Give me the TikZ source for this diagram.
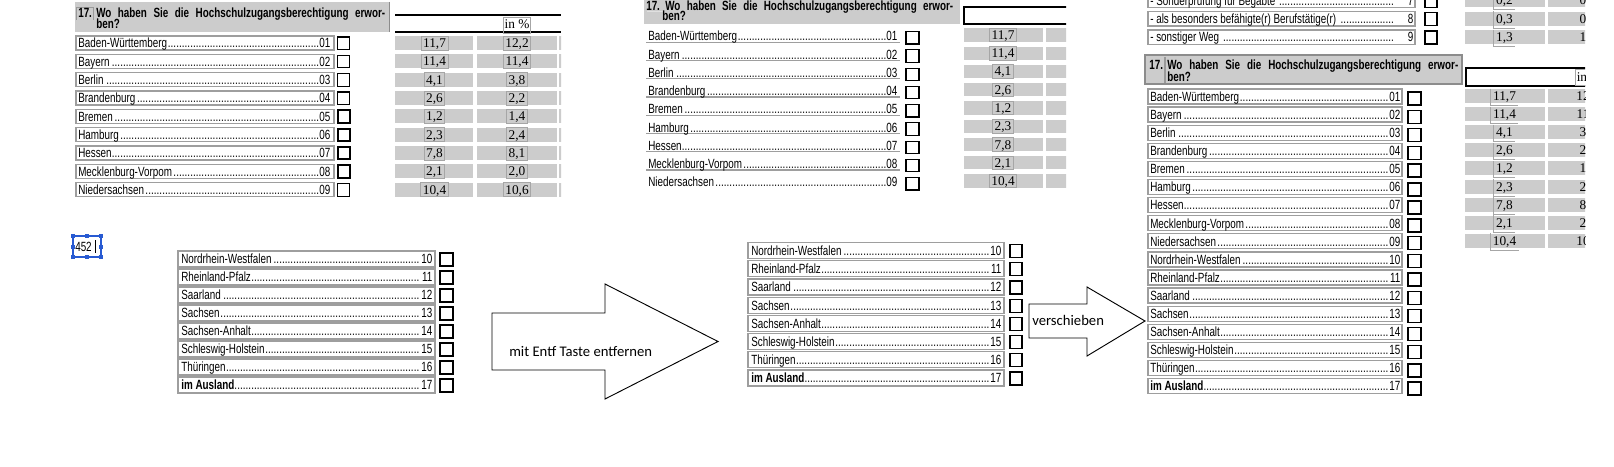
\documentclass[tikz,border=0pt]{standalone}
\usepackage{fontspec}
\setmainfont{Liberation Sans}
\newfontfamily\formfont[FakeStretch=0.74]{Liberation Sans}
\newfontfamily\valfont{Liberation Serif}
\newfontfamily\calfont{Carlito}
\usetikzlibrary{calc}
\newdimen\pxu \pxu=0.75pt
\newcommand\dotsfill{\leaders\hbox to 2.1pt{\hss.\hss}\hfill}
\newcommand\rowtxt[3]{\hbox to #1\pxu{#2\dotsfill#3}}
\newcommand\rowtxtsp[3]{\hbox to #1\pxu{#2\ \dotsfill\hskip 12\pxu #3}}
\newcommand\fsz{\fontsize{10}{12}\selectfont}
\definecolor{cellgray}{gray}{0.8}
\definecolor{boxgray}{gray}{0.62}
\definecolor{selblue}{RGB}{40,90,210}
\tikzset{
  rowbox/.style={draw=boxgray, line width=1pt},
  valnode/.style={draw=black!35, line width=0.6pt, inner xsep=1.5pt, inner ysep=0pt, minimum height=10.5pt, text height=6.75pt, text depth=0pt, font=\valfont\fsz},
  lbl/.style={anchor=base west, inner sep=0pt, font=\formfont\fsz},
  hdr/.style={anchor=base west, inner sep=0pt, font=\formfont\bfseries\fsz},
  blockarrow/.style={draw=black, line width=0.7pt, fill=white},
  arrowtext/.style={anchor=west, inner sep=0pt, font=\calfont\fontsize{11}{13}\selectfont},
  handle/.style={fill=selblue},
  inbox/.style={draw=black!35, line width=0.6pt, inner xsep=1pt, inner ysep=0pt, minimum height=12pt, text height=6.75pt, text depth=1pt, font=\valfont\fsz},
}
\begin{document}
\begin{tikzpicture}[x=0.75pt,y=-0.75pt]
\useasboundingbox (0,0) rectangle (1614,467);
\fill[white] (0,0) rectangle (1614,467);

% ================= Panel A (top left) =================
\begin{scope}
\clip (60,0) rectangle (561,205);
\fill[cellgray] (75,2) rectangle (390,32);
\draw[black!45, line width=1pt] (389.5,2) -- (389.5,32);
\draw[black!40, line width=0.6pt] (76,20) -- (76,7) -- (93,7) -- (93,20);
\node[hdr] (a-no) at (78,17.8) {17.};
\node[hdr] (a-h1) at (96,17.8) {\hbox to 289\pxu{Wo\hfill haben\hfill Sie\hfill die\hfill Hochschulzugangsberechtigung\hfill erwor-}};
\node[hdr] (a-h2) at (96,28.8) {ben?};
\draw[line width=1.5pt] (395,15) -- (561,15);
\draw[line width=0.8pt] (395,32) -- (561,32);
\node[inbox] (a-in) at (517,25) {in \%};
\foreach \lab/\num/\va/\vb/\lw [count=\i from 0] in {
  Baden-Württemberg/01/{11,7}/{12,2}/0.8,
  Bayern/02/{11,4}/{11,4}/0.8,
  Berlin/03/{4,1}/{3,8}/0.8,
  Brandenburg/04/{2,6}/{2,2}/0.8,
  Bremen/05/{1,2}/{1,4}/1.5,
  Hamburg/06/{2,3}/{2,4}/1.5,
  Hessen/07/{7,8}/{8,1}/1.5,
  Mecklenburg-Vorpom/08/{2,1}/{2,0}/1.5,
  Niedersachsen/09/{10,4}/{10,6}/0.8}{
  \pgfmathsetmacro\t{36+18.33*\i}
  \draw[rowbox] (76,\t) rectangle (334,\t+14);
  \node[lbl] (a-l\num) at (78,\t+11.8) {\rowtxt{252}{\lab}{\num}};
  \draw[line width=\lw pt] (337.5,\t+1) rectangle (349.5,\t+13.5);
  \fill[cellgray] (395,\t) rectangle (473,\t+14);
  \fill[cellgray] (477,\t) rectangle (557,\t+14);
  \fill[cellgray] (559,\t) rectangle (565,\t+14);
  \node[valnode] (a-v\num) at (434.5,\t+7) {\va};
  \node[valnode] (a-w\num) at (517,\t+7) {\vb};
}
\end{scope}

% ================= selected "452" =================
\node[inner sep=0pt, anchor=base west, font=\formfont\fsz] (sel) at (75,251.5) {452};
\draw[black, line width=0.6pt] (95,240) -- (95,253);
\draw[selblue, line width=0.8pt] (73,236) rectangle (101,257);
\foreach \hx/\hy in {73/236, 87/236, 101/236, 73/246.5, 101/246.5, 73/257, 87/257, 101/257}
  \fill[handle] (\hx-2,\hy-2) rectangle (\hx+2,\hy+2);

% ================= Panel B (bottom left list) =================
\foreach \lab/\num/\lw [count=\i from 0] in {
  Nordrhein-Westfalen/10/0.8, Rheinland-Pfalz/11/0.8, Saarland/12/0.8,
  Sachsen/13/0.8, Sachsen-Anhalt/14/0.8, Schleswig-Holstein/15/0.8,
  Thüringen/16/1.5, \textbf{im Ausland}/17/1.5}{
  \pgfmathsetmacro\t{251+18*\i}
  \draw[rowbox] (178,\t) rectangle (435,\t+16);
  \node[lbl] (b-l\num) at (181,\t+12.8) {\rowtxt{251}{\lab}{\num}};
  \draw[line width=\lw pt] (440,\t+2) rectangle (453,\t+15);
}

% ================= Big arrow =================
\draw[blockarrow] (492,313) -- (605,313) -- (605,284) -- (718,341.5) -- (605,399) -- (605,370) -- (492,370) -- cycle;
\node[arrowtext] (bigtxt) at (509,352) {mit Entf Taste entfernen};

% ================= Panel C (middle top) =================
\begin{scope}
\clip (600,0) rectangle (1066,205);
\fill[cellgray] (644,-5) rectangle (960,24);
\draw[white!88!black, line width=0.8pt] (647,11.7) -- (663,11.7);
\node[hdr] (c-no) at (646,10.8) {17.};
\node[hdr] (c-h1) at (665,10.8) {\hbox to 288\pxu{Wo\hfill haben\hfill Sie\hfill die\hfill Hochschulzugangsberechtigung\hfill erwor-}};
\node[hdr] (c-h2) at (662,20.8) {ben?};
\draw[line width=1pt] (964,7) rectangle (1080,24);
\foreach \k in {0,...,7}
  \draw[boxgray, line width=1pt] (646,42.3+18.25*\k) -- (900,42.3+18.25*\k);
\foreach \lab/\num/\va [count=\i from 0] in {
  Baden-Württemberg/01/{11,7}, Bayern/02/{11,4}, Berlin/03/{4,1},
  Brandenburg/04/{2,6}, Bremen/05/{1,2}, Hamburg/06/{2,3},
  Hessen/07/{7,8}, Mecklenburg-Vorpom/08/{2,1}, Niedersachsen/09/{10,4}}{
  \pgfmathsetmacro\c{36+18.25*\i}
  \node[lbl] (c-l\num) at (648,\c+4.8) {\rowtxt{249}{\lab}{\num}};
  \draw[line width=0.8pt] (906,\c-4.3) rectangle (919,\c+8);
  \fill[cellgray] (964,\c-7.7) rectangle (1043,\c+5.7);
  \fill[cellgray] (1046,\c-7.7) rectangle (1080,\c+5.7);
  \node[valnode, minimum height=10pt] (c-v\num) at (1003,\c-1) {\va};
}
\end{scope}

% ================= Panel E (middle bottom list) =================
\foreach \lab/\num [count=\i from 0] in {
  Nordrhein-Westfalen/10, Rheinland-Pfalz/11, Saarland/12,
  Sachsen/13, Sachsen-Anhalt/14, Schleswig-Holstein/15,
  Thüringen/16, \textbf{im Ausland}/17}{
  \pgfmathsetmacro\c{250.6+18.2*\i}
  \draw[rowbox] (748,\c-8) rectangle (1004,\c+8);
  \node[lbl] (e-l\num) at (751,\c+4.8) {\rowtxt{250}{\lab}{\num}};
  \draw[line width=0.8pt] (1010,\c-6) rectangle (1022,\c+7);
}

% ================= verschieben arrow =================
\draw[blockarrow] (1029,304) -- (1087,304) -- (1087,287) -- (1145,321) -- (1087,356) -- (1087,338) -- (1029,338) -- cycle;
\node[arrowtext] (vtxt) at (1032,320) {verschieben};

% ================= Panel D (right) =================
\begin{scope}
\clip (1100,0) rectangle (1585,405);
% partial rows 7-9
\foreach \lab/\num/\va/\vb [count=\i from 0] in {
  - Sonderprüfung für Begabte/7/{0,2}/{0,2},
  - als besonders befähigte(r) Berufstätige(r)/8/{0,3}/{0,3},
  - sonstiger Weg/9/{1,3}/{1,2}}{
  \pgfmathsetmacro\t{-6.6+18.3*\i}
  \draw[rowbox] (1148,\t) rectangle (1415,\t+14.3);
  \node[lbl] (d-s\num) at (1150,\t+11.9) {\rowtxtsp{263}{\lab}{\num}};
  \draw[line width=0.8pt] (1425,\t+1) rectangle (1437,\t+14);
  \fill[cellgray] (1465,\t) rectangle (1545,\t+14);
  \fill[cellgray] (1548,\t) rectangle (1600,\t+14);
  \node[valnode, draw=none] (d-sv\num) at (1504.5,\t+7) {\va};
  \draw[black!35, line width=0.6pt] (d-sv\num.north west) -- ($(d-sv\num.south west)+(0,2)$) -- ($(d-sv\num.south east)+(0,2)$);
  \node[valnode, draw=none] (d-sw\num) at (1588,\t+7) {\vb};
}
% header
\fill[cellgray] (1145,55) rectangle (1462,84);
\draw[black!45, line width=1pt] (1145,55) rectangle (1462,84);
\draw[black!40, line width=0.8pt] (1165,57) -- (1165,83);
\node[hdr] (d-no) at (1149,69.8) {17.};
\node[hdr] (d-h1) at (1167,69.8) {\hbox to 291\pxu{Wo\hfill haben\hfill Sie\hfill die\hfill Hochschulzugangsberechtigung\hfill erwor-}};
\node[hdr] (d-h2) at (1167,81.8) {ben?};
\draw[line width=1.2pt] (1466,68) rectangle (1600,86);
\node[inbox, anchor=west] (d-in) at (1575,77.5) {in \%};
% rows 01-09
\foreach \lab/\num/\va/\vb/\lw [count=\i from 0] in {
  Baden-Württemberg/01/{11,7}/{12,2}/0.8,
  Bayern/02/{11,4}/{11,4}/0.8,
  Berlin/03/{4,1}/{3,8}/0.8,
  Brandenburg/04/{2,6}/{2,2}/0.8,
  Bremen/05/{1,2}/{1,4}/1.5,
  Hamburg/06/{2,3}/{2,4}/1.5,
  Hessen/07/{7,8}/{8,1}/1.5,
  Mecklenburg-Vorpom/08/{2,1}/{2,0}/1.5,
  Niedersachsen/09/{10,4}/{10,6}/0.8}{
  \pgfmathsetmacro\t{89+18.1*\i}
  \draw[rowbox] (1148,\t) rectangle (1402,\t+15);
  \node[lbl] (d-l\num) at (1150,\t+12.3) {\rowtxt{250}{\lab}{\num}};
  \draw[line width=\lw pt] (1408,\t+3) rectangle (1421,\t+16);
  \fill[cellgray] (1465,\t) rectangle (1545,\t+14);
  \fill[cellgray] (1548,\t) rectangle (1600,\t+14);
  \node[valnode, draw=none] (d-v\num) at (1504.5,\t+7) {\va};
  \draw[black!35, line width=0.6pt] (d-v\num.north west) -- ($(d-v\num.south west)+(0,2)$) -- ($(d-v\num.south east)+(0,2)$);
  \node[valnode, draw=none] (d-w\num) at (1588,\t+7) {\vb};
}
% rows 10-17
\foreach \lab/\num/\lw [count=\i from 9] in {
  Nordrhein-Westfalen/10/0.8, Rheinland-Pfalz/11/0.8, Saarland/12/0.8,
  Sachsen/13/0.8, Sachsen-Anhalt/14/0.8, Schleswig-Holstein/15/0.8,
  Thüringen/16/1.5, \textbf{im Ausland}/17/1.5}{
  \pgfmathsetmacro\t{89+18.1*\i}
  \draw[rowbox] (1148,\t) rectangle (1402,\t+15);
  \node[lbl] (d-l\num) at (1150,\t+12.3) {\rowtxt{250}{\lab}{\num}};
  \draw[line width=\lw pt] (1408,\t+3) rectangle (1421,\t+16);
}
\end{scope}
\end{tikzpicture}
\end{document}
